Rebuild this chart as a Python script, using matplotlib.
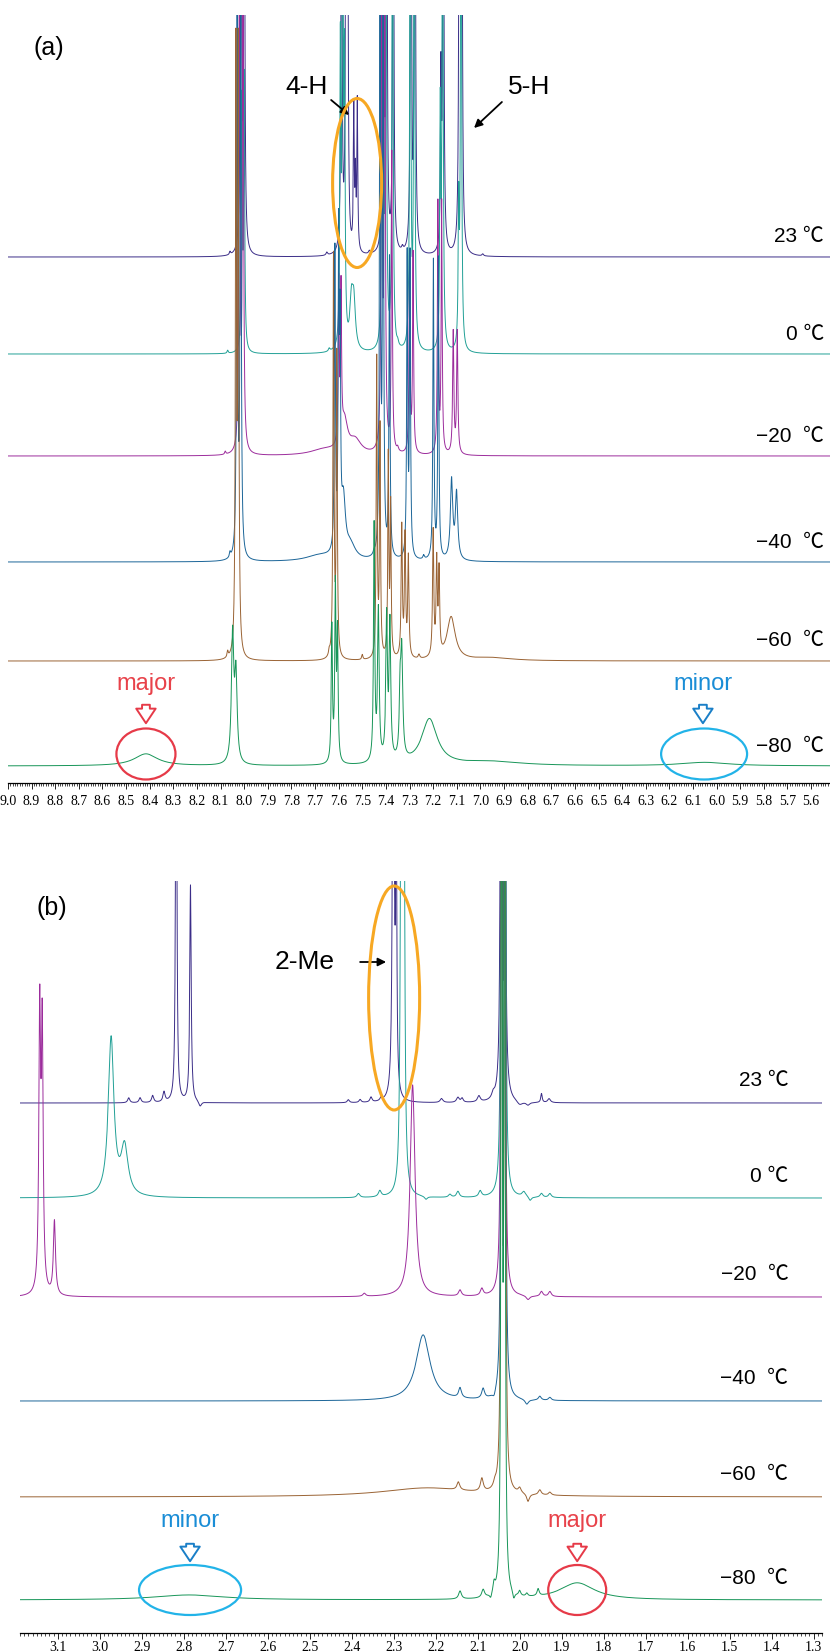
import numpy as np
import matplotlib
matplotlib.use('Agg')
import matplotlib.pyplot as plt
from matplotlib.patches import Ellipse, FancyArrowPatch
from matplotlib.ticker import MultipleLocator, FormatStrFormatter

plt.rcParams['font.family'] = ['Liberation Sans', 'Noto Sans CJK SC', 'DejaVu Sans']

# temperatures, top trace first
temp_labels = ['23 ℃', '0 ℃', '−20  ℃', '−40  ℃', '−60  ℃', '−80  ℃']
trace_colors = ['#3b2d88', '#21a096', '#9c2c9c', '#1b6598', '#9a6334', '#179558']

# vertical stacking of the traces (pixel-like units above the axis)
offsets_a = [526, 429, 327, 221, 122, 17]
offsets_b = [530, 435, 336, 232, 136, 33]

# peak lists: (ppm, height, half width in ppm), panel (a) aromatic region
peaks_a_23 = [(8.014, 600, .0025), (8.000, 600, .0025),
              (7.588, 500, .0025), (7.569, 500, .0025), (7.562, 400, .0025),
              (7.536, 140, .0022), (7.529, 70, .0022), (7.521, 150, .0022),
              (7.411, 600, .0025), (7.397, 600, .0025), (7.369, 600, .0025),
              (7.294, 600, .0025), (7.277, 600, .0025),
              (7.167, 168, .0025), (7.157, 600, .0025),
              (7.089, 600, .0025), (7.079, 600, .0025),
              (8.06, 3, .003), (7.65, 3, .004), (7.47, 3, .004), (7.33, 4, .004), (6.99, 2, .004)]
peaks_a_0 = [(8.010, 248, .0025), (8.000, 270, .0025),
             (7.593, 290, .0025), (7.583, 600, .0025), (7.575, 260, .0025),
             (7.546, 45, .008), (7.536, 45, .008),
             (7.414, 600, .0025), (7.400, 600, .0025), (7.372, 600, .0025),
             (7.297, 600, .0025), (7.280, 600, .0025),
             (7.170, 230, .0025), (7.160, 600, .0025),
             (7.092, 136, .0025), (7.082, 600, .0025),
             (8.07, 3, .003), (7.64, 3, .004), (7.35, 4, .004)]
peaks_a_m20 = [(8.020, 600, .0025), (8.005, 600, .0025),
               (7.600, 160, .0025), (7.590, 150, .0025),
               (7.575, 30, .015), (7.530, 14, .03), (7.66, 6, .07),
               (7.418, 600, .0025), (7.405, 600, .0025), (7.375, 300, .0025),
               (7.300, 200, .0025), (7.285, 200, .0025),
               (7.180, 250, .0025), (7.164, 250, .0025),
               (7.115, 122, .003), (7.098, 122, .003),
               (8.08, 3, .003), (7.35, 4, .004)]
peaks_a_m40 = [(8.030, 600, .0025), (8.015, 600, .0025),
               (7.616, 300, .0025), (7.600, 300, .0025), (7.594, 200, .0025),
               (7.580, 55, .01), (7.550, 14, .025), (7.68, 6, .07),
               (7.425, 600, .0025), (7.412, 600, .0025), (7.385, 300, .0025),
               (7.310, 300, .0025), (7.298, 300, .0025),
               (7.199, 300, .0025), (7.178, 300, .0025),
               (7.122, 79, .006), (7.101, 66, .006),
               (8.06, 5, .003), (7.45, 3, .004), (7.24, 4, .004)]
peaks_a_m60 = [(8.035, 600, .0025), (8.025, 600, .0025),
               (7.622, 400, .0025), (7.608, 300, .0025),
               (7.439, 300, .0025), (7.425, 230, .0025), (7.390, 200, .0025), (7.380, 150, .0025),
               (7.333, 131, .003), (7.319, 120, .003), (7.305, 100, .003),
               (7.200, 125, .003), (7.185, 92, .003), (7.175, 82, .003),
               (7.124, 43, .021), (6.95, 3, .1),
               (8.07, 6, .003), (7.64, 5, .003), (7.50, 5, .003), (7.26, 4, .004)]
peaks_a_m80 = [(8.416, 12, .06),
               (8.049, 127, .006), (8.035, 85, .006),
               (7.629, 135, .003), (7.614, 172, .003), (7.605, 125, .003),
               (7.450, 235, .003), (7.432, 150, .004),
               (7.397, 142, .004), (7.383, 135, .004),
               (7.340, 60, .004), (7.333, 105, .005),
               (7.216, 46, .04), (6.95, 4, .15),
               (6.05, 3.5, .12)]

# panel (b) aliphatic region
peaks_b_23 = [(2.818, 600, .0015), (2.784, 217, .002),
              (2.931, 5, .003), (2.904, 5, .003), (2.874, 7, .003), (2.847, 10, .003),
              (2.761, -5, .004),
              (2.301, 600, .002), (2.294, 300, .0015),
              (2.408, 3, .003), (2.380, 3, .003), (2.354, 5, .003), (2.330, 3, .003),
              (2.186, 4, .004), (2.147, 5, .004), (2.137, 4, .003), (2.097, 6, .004), (2.063, 5, .004),
              (2.044, 1500, .0012), (2.036, 1500, .0012),
              (2.000, -4, .008), (1.980, -3, .005), (1.948, 9, .002), (1.930, 4, .004)]
peaks_b_0 = [(2.973, 158, .008), (2.941, 48, .01),
             (2.282, 600, .002), (2.276, 600, .002),
             (2.384, 4, .004), (2.333, 6, .004), (2.223, -3, .004),
             (2.166, 3, .004), (2.147, 6, .004), (2.094, 6, .004),
             (2.043, 1500, .0012), (2.035, 1500, .0012),
             (1.990, 5, .005), (1.975, -4, .004), (1.948, 4, .004), (1.928, 4, .004)]
peaks_b_m20 = [(3.143, 274, .0025), (3.137, 257, .0025), (3.108, 74, .003),
               (2.255, 212, .007), (2.370, 3, .004),
               (2.142, 6, .004), (2.090, 7, .004),
               (2.043, 1500, .0012), (2.036, 1500, .0012),
               (1.980, -4, .005), (1.948, 5, .004), (1.928, 5, .004)]
peaks_b_m40 = [(2.230, 66, .02),
               (2.142, 10, .004), (2.087, 10, .004), (2.061, -5, .004),
               (2.043, 1500, .0012), (2.035, 1500, .0012),
               (1.983, -5, .005), (1.952, 4, .004), (1.928, 3, .004)]
peaks_b_m60 = [(2.220, 9, .13),
               (2.146, 8, .004), (2.090, 13, .004), (2.059, 5, .004),
               (2.043, 1500, .0012), (2.035, 1500, .0012),
               (2.000, 5, .004), (1.980, -8, .004), (1.952, 5, .004), (1.928, 3, .004)]
peaks_b_m80 = [(2.787, 5, .1),
               (2.142, 8, .004), (2.087, 8, .004), (2.069, -5, .003), (2.061, 10, .003),
               (2.043, 1500, .0012), (2.036, 1500, .0012),
               (2.014, -7, .003), (2.000, 5, .003), (1.983, 3, .003), (1.956, 7, .003),
               (1.863, 17, .05)]

peaks_a = [peaks_a_23, peaks_a_0, peaks_a_m20, peaks_a_m40, peaks_a_m60, peaks_a_m80]
peaks_b = [peaks_b_23, peaks_b_0, peaks_b_m20, peaks_b_m40, peaks_b_m60, peaks_b_m80]


def spectrum(ppm, peaks):
    y = np.zeros_like(ppm)
    for x0, h, w in peaks:
        y += h * w ** 2 / ((ppm - x0) ** 2 + w ** 2)
    return y


W, H = 830, 1652
fig = plt.figure(figsize=(W / 100, H / 100), dpi=100)


def px_axes(left, top, right, bottom):
    return fig.add_axes([left / W, 1 - bottom / H, (right - left) / W, (bottom - top) / H])


def setup(ax, xlim, ylim, pad):
    ax.set_xlim(*xlim)
    ax.set_ylim(*ylim)
    for s in ['left', 'right', 'top']:
        ax.spines[s].set_visible(False)
    ax.spines['bottom'].set_linewidth(0.9)
    ax.set_yticks([])
    ax.xaxis.set_major_locator(MultipleLocator(0.1))
    ax.xaxis.set_minor_locator(MultipleLocator(0.01))
    ax.xaxis.set_major_formatter(FormatStrFormatter('%.1f'))
    ax.tick_params(axis='x', which='major', length=4, width=0.6, pad=pad,
                   labelsize=10, labelfontfamily='Liberation Serif')
    ax.tick_params(axis='x', which='minor', length=2, width=0.5)
    ax.patch.set_visible(False)


def hollow_arrow(ax, x, y0, y1, color):
    arr = FancyArrowPatch((x, y0), (x, y1),
                          arrowstyle='simple,head_length=0.75,head_width=1.0,tail_width=0.4',
                          mutation_scale=14, facecolor='white', edgecolor=color, lw=1.4,
                          clip_on=False, zorder=20)
    ax.add_patch(arr)


def draw_panel(ax, grid, peak_sets, offsets, label_x, label_dy):
    for i, (pk, off, col, lab) in enumerate(zip(peak_sets, offsets, trace_colors, temp_labels)):
        ax.plot(grid, off + spectrum(grid, pk), color=col, lw=0.7, zorder=2 + i)
        ax.text(label_x, off + label_dy, lab, ha='right', va='center', fontsize=15,
                zorder=30)


# ---- panel (a) ----
ax_a = px_axes(8, 15, 830, 783)
setup(ax_a, (9.0, 5.52), (0, 768), 4.5)
grid_a = np.arange(5.5, 9.01, 0.0004)
draw_panel(ax_a, grid_a, peaks_a, offsets_a, 5.545, 20)

ax_a.text(8.89, 735, '(a)', fontsize=18, ha='left', va='center')
ax_a.text(7.734, 696, '4-H', fontsize=19, ha='center', va='center')
ax_a.text(6.794, 696, '5-H', fontsize=19, ha='center', va='center')
ax_a.annotate('', xy=(7.556, 668), xytext=(7.632, 683),
              arrowprops=dict(arrowstyle='-|>', color='black', lw=1.3, mutation_scale=12,
                              shrinkA=0, shrinkB=0), zorder=20)
ax_a.annotate('', xy=(7.027, 655), xytext=(6.909, 681),
              arrowprops=dict(arrowstyle='-|>', color='black', lw=1.3, mutation_scale=12,
                              shrinkA=0, shrinkB=0), zorder=20)
ax_a.add_patch(Ellipse((7.522, 600), 0.2075, 169, fill=False, ec='#f7a823', lw=2.2, zorder=20))
ax_a.add_patch(Ellipse((8.416, 29), 0.25, 51, fill=False, ec='#e63a48', lw=1.6, zorder=20))
ax_a.add_patch(Ellipse((6.053, 29), 0.364, 51, fill=False, ec='#22b3e8', lw=1.6, zorder=20))
ax_a.text(8.416, 99, 'major', color='#e8424a', fontsize=17, ha='center', va='center')
ax_a.text(6.058, 99, 'minor', color='#1a8dd6', fontsize=17, ha='center', va='center')
hollow_arrow(ax_a, 8.416, 81, 57, '#e63a48')
hollow_arrow(ax_a, 6.058, 81, 57, '#1a7fc7')

# ---- panel (b) ----
ax_b = px_axes(20, 881, 822, 1633)
setup(ax_b, (3.19, 1.28), (0, 752), 2)
grid_b = np.arange(1.27, 3.2, 0.0002)
draw_panel(ax_b, grid_b, peaks_b, offsets_b, 1.36, 22)

ax_b.text(3.15, 725, '(b)', fontsize=18, ha='left', va='center')
ax_b.text(2.512, 671, '2-Me', fontsize=19, ha='center', va='center')
ax_b.annotate('', xy=(2.318, 671), xytext=(2.38, 671),
              arrowprops=dict(arrowstyle='-|>', color='black', lw=1.3, mutation_scale=12,
                              shrinkA=0, shrinkB=0), zorder=20)
ax_b.add_patch(Ellipse((2.299, 635), 0.1215, 224, fill=False, ec='#f7a823', lw=2.2, zorder=20))
ax_b.add_patch(Ellipse((2.785, 43), 0.243, 50, fill=False, ec='#22b3e8', lw=1.6, zorder=20))
ax_b.add_patch(Ellipse((1.863, 43), 0.138, 50, fill=False, ec='#e63a48', lw=1.6, zorder=20))
ax_b.text(2.785, 112, 'minor', color='#1a8dd6', fontsize=17, ha='center', va='center')
ax_b.text(1.863, 112, 'major', color='#e8424a', fontsize=17, ha='center', va='center')
hollow_arrow(ax_b, 2.785, 92, 69, '#1a7fc7')
hollow_arrow(ax_b, 1.863, 92, 69, '#e63a48')

fig.savefig('out.png', dpi=100)
